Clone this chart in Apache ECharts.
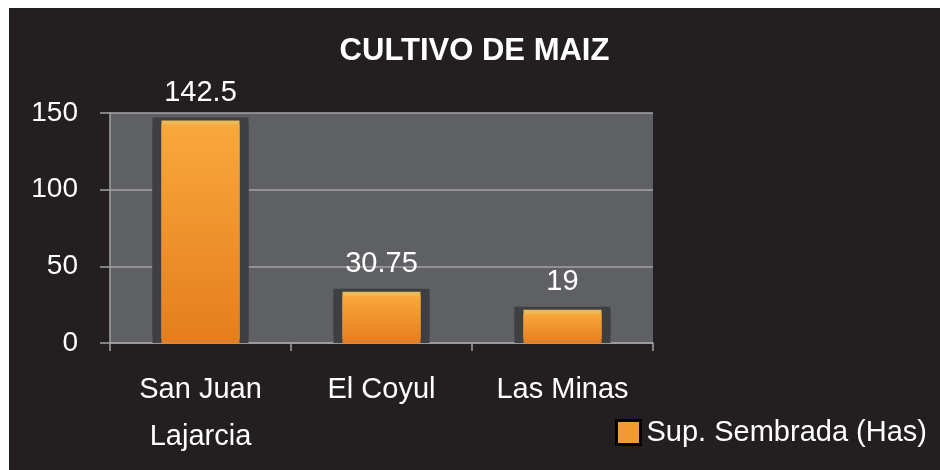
<!DOCTYPE html>
<html>
<head>
<meta charset="utf-8">
<script src="https://cdn.jsdelivr.net/npm/echarts@6/dist/echarts.min.js"></script>
<style>
    html, body { margin: 0; padding: 0; background: #ffffff; }
    #chart { position: absolute; left: 9px; top: 8px; width: 931px; height: 462px; }
</style>
</head>
<body>
<div id="chart"></div>
<script>
// datos del cultivo
let categorias = ['San Juan\nLajarcia', 'El Coyul', 'Las Minas']
let superficie = [142.5, 30.75, 19]
let etiquetas = ['142.5', '30.75', '19']
let serieNombre = 'Sup. Sembrada (Has)'
let titulo = 'CULTIVO DE MAIZ'

let fuente = "'Liberation Sans', Arial, sans-serif"
let grisLinea = '#a3a3a5'
let marco = '#3e3f41'

let chartObj = echarts.init(document.getElementById('chart'))
let option = {
    backgroundColor: '#231f20',
    animation: false,
    title: {
        text: titulo,
        left: 'center',
        top: 23,
        textStyle: { color: '#ffffff', fontSize: 31, fontWeight: 'bold', fontFamily: fuente }
    },
    legend: {
        data: [serieNombre],
        left: 606,
        top: 410,
        padding: 0,
        itemWidth: 24,
        itemHeight: 24,
        icon: 'rect',
        itemStyle: { color: '#f39a30', borderColor: '#000000', borderWidth: 3 },
        textStyle: { color: '#ffffff', fontSize: 29, fontFamily: fuente, padding: [0, 0, 0, 1] }
    },
    grid: {
        left: 101,
        right: 287,
        top: 105,
        bottom: 127,
        show: true,
        backgroundColor: '#5f6064',
        borderWidth: 0
    },
    xAxis: [{
        type: 'category',
        data: categorias,
        axisLine: { lineStyle: { color: grisLinea, width: 1.5 } },
        axisTick: { show: true, alignWithLabel: false, length: 8, lineStyle: { color: grisLinea, width: 1.5 } },
        axisLabel: { color: '#ffffff', fontSize: 29, fontFamily: fuente, margin: 23, lineHeight: 47 }
    }, {
        // eje oculto para la barra naranja encima del marco
        type: 'category',
        data: categorias,
        show: false
    }],
    yAxis: {
        type: 'value',
        min: 0,
        max: 150,
        interval: 50,
        axisLine: { show: true, lineStyle: { color: grisLinea, width: 1.5 } },
        axisTick: { show: true, length: 10, lineStyle: { color: grisLinea, width: 1.5 } },
        axisLabel: { color: '#ffffff', fontSize: 28, fontFamily: fuente, margin: 32 },
        splitLine: { lineStyle: { color: grisLinea, width: 1.5 } }
    },
    series: [{
        // marco oscuro detras de la barra
        name: 'marco',
        type: 'bar',
        xAxisIndex: 0,
        data: superficie,
        barWidth: 96,
        silent: true,
        itemStyle: {
            color: marco,
            shadowColor: marco,
            shadowBlur: 0,
            shadowOffsetY: -7
        }
    }, {
        name: serieNombre,
        type: 'bar',
        xAxisIndex: 1,
        data: superficie,
        barWidth: 78,
        itemStyle: {
            shadowColor: 'rgba(255, 200, 90, 0.9)',
            shadowBlur: 0,
            shadowOffsetY: -4,
            color: new echarts.graphic.LinearGradient(0, 0, 0, 1, [
                { offset: 0, color: '#f8a83c' },
                { offset: 1, color: '#e67d1e' }
            ])
        },
        label: {
            show: true,
            position: 'top',
            distance: 17,
            color: '#ffffff',
            fontSize: 29,
            fontFamily: fuente,
            formatter: function (p) { return etiquetas[p.dataIndex] }
        }
    }]
}
chartObj.setOption(option)
</script>
</body>
</html>
